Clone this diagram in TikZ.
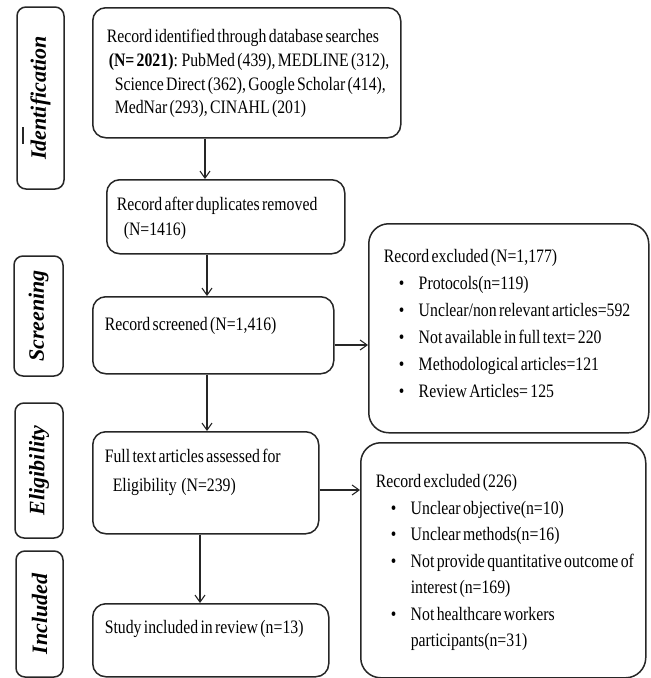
\documentclass[tikz,border=0pt]{standalone}
\usepackage{fontspec}
\setmainfont{Liberation Serif}[FakeStretch=0.83,WordSpace=0.6]
\newfontfamily\sidefont{Liberation Serif}
\usetikzlibrary{arrows.meta}
\newcommand{\boxtext}[4]{\parbox[c][#2][t]{#1}{\vspace*{#3}\begin{tabular}[t]{@{}l@{}}#4\end{tabular}}}
\newcommand{\itm}[1]{\hspace*{15pt}\makebox[20pt][l]{\textbullet}\begin{tabular}[t]{@{}l@{}}#1\end{tabular}}

\begin{document}
\begin{tikzpicture}[x=1pt,y=-1pt,
  box/.style={draw=black!85,line width=1.5pt,rounded corners=13pt,anchor=north west,inner ysep=0pt,font=\fontsize{19}{26}\selectfont},
  side/.style={draw=black!85,line width=1.5pt,rounded corners=9pt,rotate=90,inner sep=0pt,font=\sidefont\fontsize{22}{26}\selectfont\bfseries\itshape},
  arr/.style={draw=black!85,line width=1.1pt,-{Straight Barb[length=7pt,width=10pt]}}]

\useasboundingbox (0,0) rectangle (651,678);

\node[side,minimum width=182pt,minimum height=47pt] (v1) at (40.5,98) {Identification};
\node[side,minimum width=120pt,minimum height=49pt] (v4) at (38.5,316) {Screening};
\node[side,minimum width=135pt,minimum height=48pt] (v7) at (39,470.5) {Eligibility};
\node[side,minimum width=126pt,minimum height=47pt] (v10) at (39.5,614) {Included};
\draw[line width=1.5pt,black!85] (23,127) -- (23,144);

\node[box,inner xsep=14pt,font=\fontsize{19}{23.7}\selectfont] (v2) at (92,7) {\boxtext{280pt}{130pt}{18.4pt}{Record identified through database searches\\ \hspace*{2pt}\textbf{(N= 2021)}: PubMed (439), MEDLINE (312),\\ \hspace*{8pt}Science Direct (362), Google Scholar (414),\\ \hspace*{8pt}MedNar (293), CINAHL (201)}};
\node[box,inner xsep=10pt,font=\fontsize{19}{25}\selectfont] (v3) at (106,179) {\boxtext{218pt}{74pt}{13.5pt}{Record after duplicates removed\\ \hspace*{7pt}(N=1416)}};
\node[box,inner xsep=12pt] (v5) at (92,296) {\boxtext{217pt}{77pt}{15.8pt}{Record screened (N=1,416)}};
\node[box,inner xsep=12pt,font=\fontsize{19}{29}\selectfont] (v8) at (92,431) {\boxtext{202pt}{102pt}{10.7pt}{Full text articles assessed for\\ \hspace*{8pt}Eligibility~~(N=239)}};
\node[box,inner xsep=12pt] (v11) at (92,603) {\boxtext{212pt}{73pt}{11.8pt}{Study included in review (n=13)}};

\node[box,rounded corners=20pt,inner xsep=15pt,font=\fontsize{19}{27}\selectfont] (v6) at (368,223) {\boxtext{250pt}{209pt}{20pt}{Record excluded (N=1,177)\\ \itm{Protocols(n=119)}\\ \itm{Unclear/non relevant articles=592}\\ \itm{Not available in full text= 220}\\ \itm{Methodological articles=121}\\ \itm{Review Articles= 125}}};
\node[box,rounded corners=20pt,inner xsep=15pt,font=\fontsize{19}{26.5}\selectfont] (v9) at (360,442) {\boxtext{255pt}{235pt}{26.5pt}{Record excluded (226)\\ \itm{Unclear objective(n=10)}\\ \itm{Unclear methods(n=16)}\\ \itm{Not provide quantitative outcome of\\ interest (n=169)}\\ \itm{Not healthcare workers\\ participants(n=31)}}};

\coordinate (v12) at (205,0);
\coordinate (v13) at (207,0);
\coordinate (v14) at (200,0);
\coordinate (v15) at (0,345);
\coordinate (v16) at (0,490);

\draw[arr] (v2.south -| v12) -- (v3.north -| v12);
\draw[arr] (v3.south -| v13) -- (v5.north -| v13);
\draw[arr] (v5.south -| v13) -- (v8.north -| v13);
\draw[arr] (v8.south -| v14) -- (v11.north -| v14);
\draw[arr] (v5.east |- v15) -- (v6.west |- v15);
\draw[arr] (v8.east |- v16) -- (v9.west |- v16);
\end{tikzpicture}
\end{document}
